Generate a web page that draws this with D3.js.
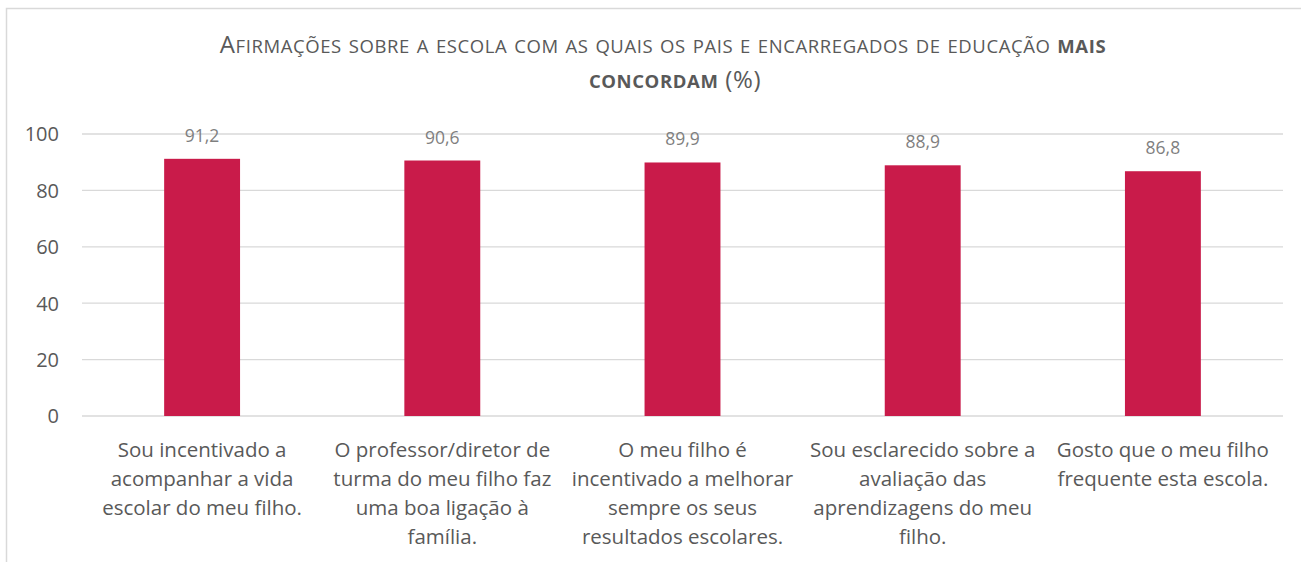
<!DOCTYPE html>
<html><head><meta charset="utf-8">
<script src="https://cdn.jsdelivr.net/npm/d3@7"></script>
<style>
html,body{margin:0;padding:0;background:#fff;}
svg{display:block;}
text{font-family:"Open Sans",sans-serif;}
</style></head>
<body>
<svg id="c" width="1301" height="562"></svg>
<script>
const categories = [
  "Sou incentivado a acompanhar a vida escolar do meu filho.",
  "O professor/diretor de turma do meu filho faz uma boa ligação à família.",
  "O meu filho é incentivado a melhorar sempre os seus resultados escolares.",
  "Sou esclarecido sobre a avaliação das aprendizagens do meu filho.",
  "Gosto que o meu filho frequente esta escola."
];
const categoryLines = [
  ["Sou incentivado a", "acompanhar a vida", "escolar do meu filho."],
  ["O professor/diretor de", "turma do meu filho faz", "uma boa ligação à", "família."],
  ["O meu filho é", "incentivado a melhorar", "sempre os seus", "resultados escolares."],
  ["Sou esclarecido sobre a", "avaliação das", "aprendizagens do meu", "filho."],
  ["Gosto que o meu filho", "frequente esta escola."]
];
const values = [91.2, 90.6, 89.9, 88.9, 86.8];
const yTicks = [0, 20, 40, 60, 80, 100];
const titleLine1 = [["Afirmações sobre a escola com as quais os pais e encarregados de educação ", false], ["mais", true]];
const titleLine2 = [["concordam", true], [" (%)", false]];

const svg = d3.select("#c");

// outer border (chart area)
svg.append("rect").attr("x", 6.5).attr("y", 8.5).attr("width", 1301).attr("height", 600)
  .attr("fill", "none").attr("stroke", "#d9d9d9").attr("stroke-width", 1.5);

const x = d3.scaleBand().domain(categories).range([82, 1283]).paddingInner(0.684).paddingOuter(0.342);
const y = d3.scaleLinear().domain([0, 100]).range([416, 134]);

// gridlines
svg.append("g").selectAll("line").data(yTicks).join("line")
  .attr("x1", 82).attr("x2", 1283)
  .attr("y1", d => y(d)).attr("y2", d => y(d))
  .attr("stroke", "#d9d9d9").attr("stroke-width", 1.3);

// y axis labels
const yAxis = d3.axisLeft(y).tickValues(yTicks).tickSize(0).tickPadding(0).tickFormat(d3.format("d"));
const ga = svg.append("g").attr("transform", "translate(59,0)").call(yAxis);
ga.select(".domain").remove();
ga.selectAll("text").attr("font-family", "'Open Sans', sans-serif").attr("font-size", 20).attr("fill", "#595959").attr("dy", "0.34em");

// bars
svg.append("g").selectAll("rect").data(values).join("rect")
  .attr("x", (d, i) => x(categories[i]))
  .attr("width", x.bandwidth())
  .attr("y", d => y(d))
  .attr("height", d => y(0) - y(d))
  .attr("fill", "#C91B4A");

// value labels
svg.append("g").selectAll("text").data(values).join("text")
  .attr("x", (d, i) => x(categories[i]) + x.bandwidth() / 2)
  .attr("y", d => y(d) - 17)
  .attr("text-anchor", "middle")
  .attr("font-size", 17.5)
  .attr("fill", "#7f7f7f")
  .text(d => d3.format(".1f")(d).replace(".", ","));

// category labels
const cg = svg.append("g");
categories.forEach((c, i) => {
  const cx = x(c) + x.bandwidth() / 2;
  const t = cg.append("text").attr("text-anchor", "middle").attr("font-size", 20.5).attr("fill", "#595959");
  categoryLines[i].forEach((ln, j) => {
    t.append("tspan").attr("x", cx).attr("y", 457 + j * 29).text(ln);
  });
});

// title with emulated small caps
function smallCaps(textSel, parts, big, small) {
  parts.forEach(([str, bold]) => {
    const runs = [];
    for (const ch of str) {
      const isLower = ch !== ch.toUpperCase();
      const last = runs[runs.length - 1];
      if (last && last.lower === isLower) last.s += ch; else runs.push({ s: ch, lower: isLower });
    }
    runs.forEach(r => {
      textSel.append("tspan")
        .attr("font-size", r.lower ? small : big)
        .attr("font-weight", bold ? "bold" : "normal")
        .text(r.lower ? r.s.toUpperCase() : r.s);
    });
  });
}
const t1 = svg.append("text").attr("x", 663).attr("y", 53).attr("text-anchor", "middle")
  .attr("fill", "#595959").attr("letter-spacing", 0.6);
smallCaps(t1, titleLine1, 24, 18.5);
const t2 = svg.append("text").attr("x", 675).attr("y", 88).attr("text-anchor", "middle")
  .attr("fill", "#595959").attr("letter-spacing", 0.6);
smallCaps(t2, titleLine2, 24, 18.5);
</script>
</body></html>
